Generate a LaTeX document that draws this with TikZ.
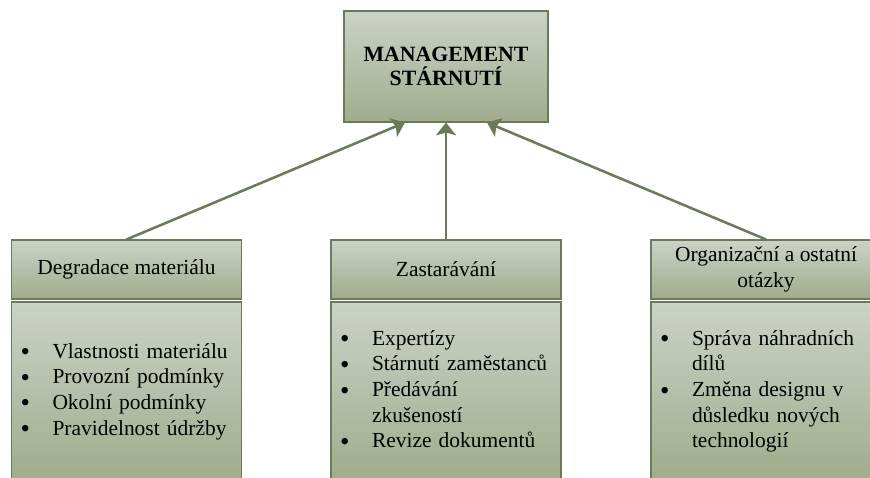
\documentclass[tikz,border=0pt]{standalone}
\usepackage{fontspec}
\setmainfont{Liberation Serif}
\usetikzlibrary{calc, arrows.meta, positioning}
\newcommand{\bul}{\raisebox{-1.4pt}{\scalebox{1.25}{\textbullet}}}
\newcommand{\blist}[1]{\begin{tabular}{@{}p{17.6pt}@{}p{110pt}@{}}#1\end{tabular}}
\definecolor{olivetop}{RGB}{204,210,199}
\definecolor{olivebot}{RGB}{160,172,140}
\definecolor{oliveline}{RGB}{107,122,88}
\tikzset{
  box/.style={draw=oliveline, line width=0.6pt, top color=olivetop, bottom color=olivebot,
    inner sep=0pt, font=\fontsize{11.8}{14.1}\selectfont},
  head/.style={box, minimum width=126.5pt, minimum height=32.45pt, align=center},
  body/.style={box, minimum height=98.45pt, text width=116.6pt, inner xsep=4.95pt, align=left},
  link/.style={draw=oliveline, line width=1.4pt, -{Stealth[length=7pt,width=11pt,inset=1.5pt]}}
}

\begin{document}
\begin{tikzpicture}[x=0.55pt,y=-0.55pt]
\useasboundingbox (0,0) rectangle (870,477);
\clip (0,0) rectangle (870,477);

\node[box, minimum width=112.2pt, minimum height=61.05pt, align=center, font=\fontsize{12}{13.5}\selectfont\bfseries]
  (top) at (446,66.5) {MANAGEMENT\\STÁRNUTÍ};

\foreach \n/\cx/\hd/\lst in {
  1/126.5/{Degradace materiálu}/{\bul & Vlastnosti materiálu\\ \bul & Provozní podmínky\\ \bul & Okolní podmínky\\ \bul & Pravidelnost údržby},
  2/446/{Zastarávání}/{\bul & Expertízy\\ \bul & Stárnutí zaměstanců\\ \bul & Předávání\newline zkušeností\\ \bul & Revize dokumentů},
  3/766/{Organizační a ostatní\\otázky}/{\bul & Správa náhradních\newline dílů\\ \bul & Změna designu v\newline důsledku nových\newline technologií}}
{
  \node[head] (head\n) at (\cx,269.5) {\hd};
  \node[body] (body\n) at (\cx,391.5) {\blist{\lst}};
}

\draw[link] (head1.north) -- ($(top.south)!.4!(top.south west)$);
\draw[link] (head2.north) -- (top.south);
\draw[link] (head3.north) -- ($(top.south)!.4!(top.south east)$);
\end{tikzpicture}
\end{document}
